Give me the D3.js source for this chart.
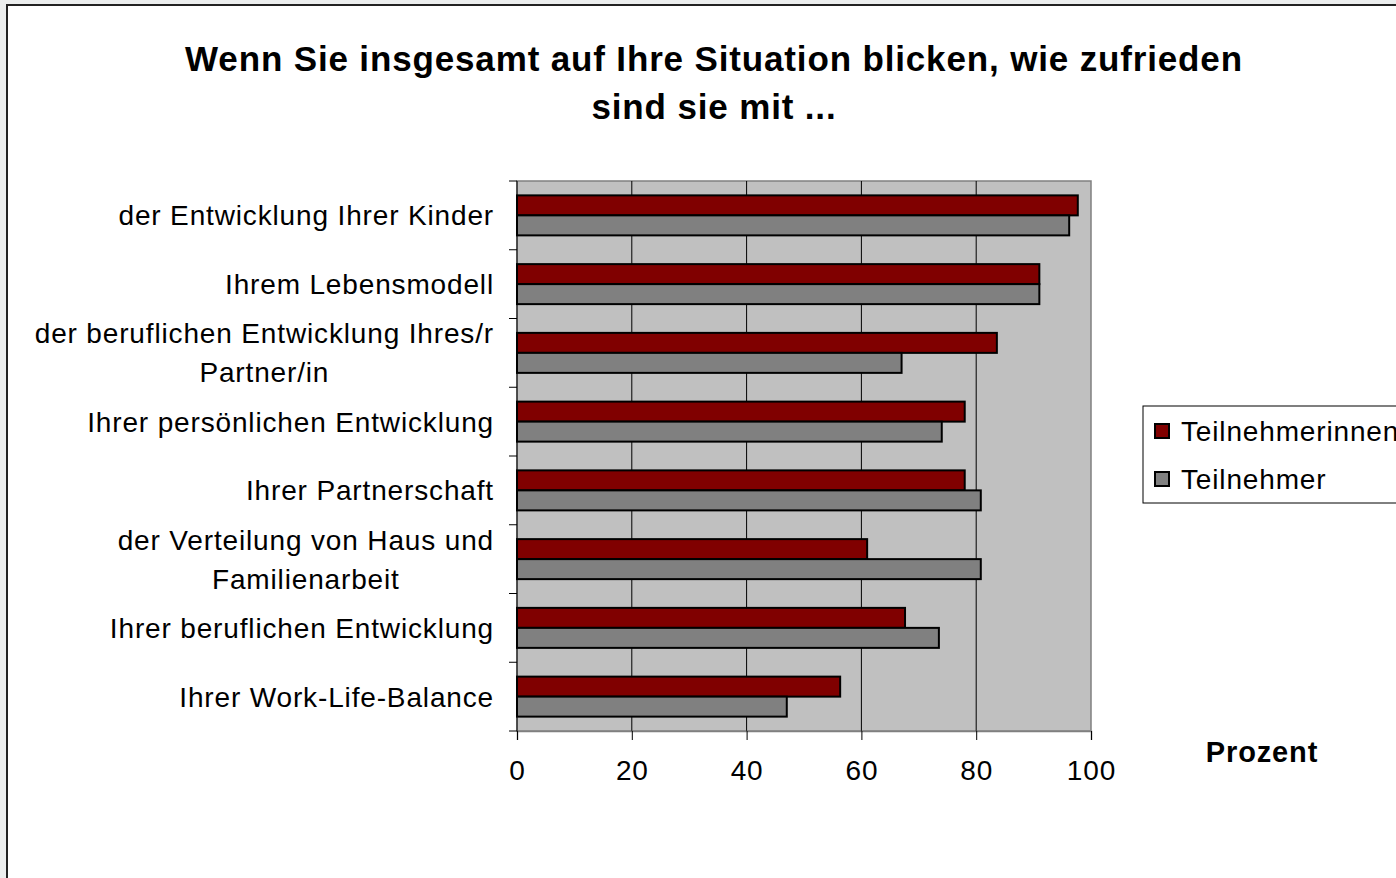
<!DOCTYPE html>
<html>
<head>
<meta charset="utf-8">
<script src="https://cdn.jsdelivr.net/npm/d3@7"></script>
<style>
  html, body { margin: 0; padding: 0; background: #eceeee; }
  svg { display: block; font-family: "Liberation Sans", Arial, sans-serif; letter-spacing: 0.85px; }
</style>
</head>
<body>
<svg id="svg" width="1396" height="878"></svg>
<script>
// categories top to bottom, lines split with \n
var categories = [
  "der Entwicklung Ihrer Kinder",
  "Ihrem Lebensmodell",
  "der beruflichen Entwicklung Ihres/r\nPartner/in",
  "Ihrer persönlichen Entwicklung",
  "Ihrer Partnerschaft",
  "der Verteilung von Haus und\nFamilienarbeit",
  "Ihrer beruflichen Entwicklung",
  "Ihrer Work-Life-Balance"
];
var seriesNames = ["Teilnehmerinnen", "Teilnehmer"];
var teilnehmerinnen = [97.7, 91, 83.6, 78, 78, 61, 67.6, 56.3];
var teilnehmer = [96.2, 91, 67, 74, 80.8, 80.8, 73.5, 47];
var xTicks = [0, 20, 40, 60, 80, 100];
var colors = ["#800000", "#808080"];

var svg = d3.select("#svg");

// chart frame
svg.append("rect")
  .attr("x", 7).attr("y", 5)
  .attr("width", 1400).attr("height", 880)
  .attr("fill", "#fff")
  .attr("stroke", "#222")
  .attr("stroke-width", 2);

// title
var title = svg.append("text")
  .attr("text-anchor", "middle")
  .attr("font-size", 35)
  .attr("font-weight", "bold")
  .attr("fill", "#000");
title.append("tspan").attr("x", 714).attr("y", 71).text("Wenn Sie insgesamt auf Ihre Situation blicken, wie zufrieden");
title.append("tspan").attr("x", 714).attr("y", 119).text("sind sie mit ...");

var plotL = 517, plotR = 1091, plotT = 181, plotB = 731;

var x = d3.scaleLinear().domain([0, 100]).range([plotL, plotR]);
var y = d3.scaleBand().domain(d3.range(categories.length)).range([plotT, plotB]);
var yInner = d3.scaleBand().domain([0, 1]).range([0, 40]);
var pad = (y.bandwidth() - 40) / 2;

// plot background
svg.append("rect")
  .attr("x", plotL).attr("y", plotT)
  .attr("width", plotR - plotL).attr("height", plotB - plotT)
  .attr("fill", "#c0c0c0")
  .attr("stroke", "#808080")
  .attr("stroke-width", 1.5);

// gridlines
svg.append("g")
  .selectAll("line")
  .data(xTicks.slice(1, -1))
  .join("line")
  .attr("x1", d => x(d)).attr("x2", d => x(d))
  .attr("y1", plotT).attr("y2", plotB)
  .attr("stroke", "#000")
  .attr("stroke-width", 1);

// bars
var series = [teilnehmerinnen, teilnehmer];
series.forEach(function(vals, s) {
  svg.append("g")
    .selectAll("rect")
    .data(vals)
    .join("rect")
    .attr("x", x(0))
    .attr("y", (d, i) => y(i) + pad + yInner(s))
    .attr("width", d => x(d) - x(0))
    .attr("height", yInner.bandwidth())
    .attr("fill", colors[s])
    .attr("stroke", "#000")
    .attr("stroke-width", 2);
});

// x axis
var xAxis = svg.append("g")
  .attr("transform", `translate(0,${plotB})`)
  .call(d3.axisBottom(x).tickValues(xTicks).tickSize(9).tickPadding(20));
xAxis.select(".domain").attr("stroke", "#808080").attr("stroke-width", 1.5);
xAxis.selectAll(".tick line").attr("stroke", "#000");
xAxis.selectAll("text")
  .attr("font-size", 28)
  .attr("font-family", "Liberation Sans, Arial, sans-serif")
  .attr("fill", "#000");

// y axis ticks between categories
svg.append("g")
  .selectAll("line")
  .data(d3.range(categories.length + 1))
  .join("line")
  .attr("x1", plotL - 8).attr("x2", plotL)
  .attr("y1", d => plotT + d * y.step())
  .attr("y2", d => plotT + d * y.step())
  .attr("stroke", "#000");
svg.append("line")
  .attr("x1", plotL).attr("x2", plotL)
  .attr("y1", plotT).attr("y2", plotB)
  .attr("stroke", "#000");

// category labels, multi-line ones centered within a right-aligned block
var labelRight = 494, lineH = 39;
categories.forEach(function(c, i) {
  var lines = c.split("\n");
  var cy = y(i) + y.bandwidth() / 2;
  var g = svg.append("text")
    .attr("font-size", 28)
    .attr("fill", "#000")
    .attr("text-anchor", "middle");
  var spans = lines.map(function(l, k) {
    return g.append("tspan")
      .attr("y", cy + 10 + (k - (lines.length - 1) / 2) * lineH)
      .text(l);
  });
  var w = d3.max(spans, s => s.node().getComputedTextLength());
  spans.forEach(s => s.attr("x", labelRight - w / 2));
});

// axis title
svg.append("text")
  .attr("x", 1262).attr("y", 762)
  .attr("text-anchor", "middle")
  .attr("font-size", 29)
  .attr("font-weight", "bold")
  .text("Prozent");

// legend
var legend = svg.append("g");
legend.append("rect")
  .attr("x", 1143).attr("y", 406)
  .attr("width", 300).attr("height", 97)
  .attr("fill", "#fff")
  .attr("stroke", "#000")
  .attr("stroke-width", 1);
seriesNames.forEach(function(n, i) {
  var ly = 431 + i * 48;
  legend.append("rect")
    .attr("x", 1155).attr("y", ly - 7)
    .attr("width", 14).attr("height", 14)
    .attr("fill", colors[i])
    .attr("stroke", "#000")
    .attr("stroke-width", 2);
  legend.append("text")
    .attr("x", 1181).attr("y", ly + 10)
    .attr("font-size", 28)
    .text(n);
});
</script>
</body>
</html>
